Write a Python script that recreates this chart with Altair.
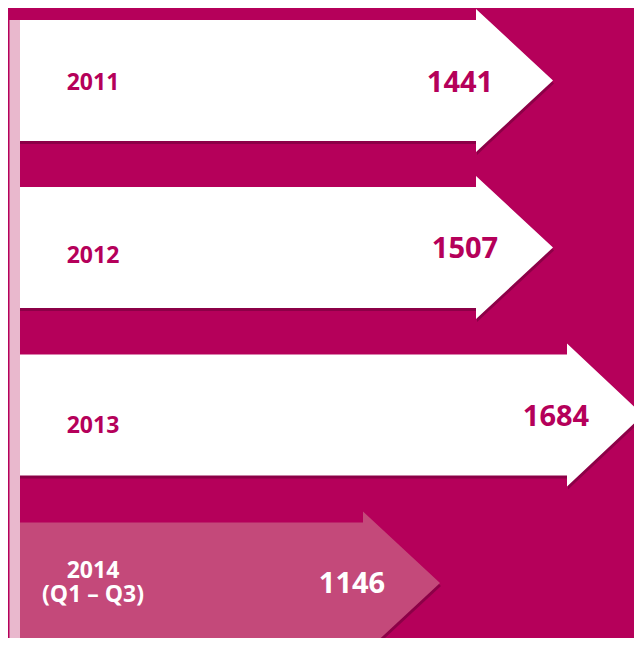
import altair as alt
import pandas as pd

# ---- chart values ----
years = ["2011", "2012", "2013", "2014\n(Q1 – Q3)"]
values = [1441, 1507, 1684, 1146]

# ---- layout (pixel positions in the reference picture) ----
row_center = [80.5, 247.5, 415.0, 583.0]
body_start = 18
body_end = [476, 476, 567, 363]
tip_x = [553, 553, 643, 440]
body_half = 60.5
head_half = 71.5
arrow_fill = ["#FFFFFF", "#FFFFFF", "#FFFFFF", "#C4497A"]
text_fill = ["#B5005A", "#B5005A", "#B5005A", "#FFFFFF"]
year_x = 93
year_y = [83, 256, 426, 571]
value_x = [460, 465, 556, 352]
value_y = [83, 249, 417, 584]
stripe = {"x": 9.5, "x2": 20, "y": 20, "y2": 646}

BG = "#B5005A"
STRIPE = "#E9B8CD"
SHADOW = "#5A0030"
W, H = 626, 630

ids = [str(i) for i in range(len(years))]

# polygon table for the arrows (body + head), built from the lists above
rows = []
for i, c in enumerate(row_center):
    pts = [
        (body_start, c - body_half, c + body_half),
        (body_end[i], c - body_half, c + body_half),
        (body_end[i] + 0.01, c - head_half, c + head_half),
        (tip_x[i], c, c),
    ]
    for k, (x, y, y2) in enumerate(pts):
        rows.append({"id": ids[i], "k": k, "x": x, "y": y, "y2": y2,
                     "sx": x + 1, "sy": y + 3, "sy2": y2 + 3})
arrows = pd.DataFrame(rows)

labels = pd.DataFrame({
    "id": ids, "year": years, "value": values,
    "yx": [year_x] * len(years), "yy": year_y,
    "vx": value_x, "vy": value_y,
})

xs = alt.Scale(domain=[8, 8 + W])
ys = alt.Scale(domain=[8, 8 + H], reverse=True)
fill_scale = alt.Scale(domain=ids, range=arrow_fill)
text_scale = alt.Scale(domain=ids, range=text_fill)

shadow = alt.Chart(arrows).mark_area(color=SHADOW, opacity=0.45).encode(
    x=alt.X("sx:Q", scale=xs, axis=None),
    y=alt.Y("sy:Q", scale=ys, axis=None, stack=None),
    y2="sy2:Q",
    detail="id:N",
)

body = alt.Chart(arrows).mark_area(opacity=1).encode(
    x=alt.X("x:Q", scale=xs, axis=None),
    y=alt.Y("y:Q", scale=ys, axis=None, stack=None),
    y2="y2:Q",
    fill=alt.Fill("id:N", scale=fill_scale, legend=None),
    detail="id:N",
)

bar = alt.Chart(pd.DataFrame([stripe])).mark_rect(color=STRIPE).encode(
    x=alt.X("x:Q", scale=xs, axis=None),
    x2="x2:Q",
    y=alt.Y("y:Q", scale=ys, axis=None),
    y2="y2:Q",
)

year_text = alt.Chart(labels).mark_text(
    font="Open Sans", fontWeight="bold", fontSize=23, lineBreak="\n",
    lineHeight=24, align="center", baseline="middle",
).encode(
    x=alt.X("yx:Q", scale=xs, axis=None),
    y=alt.Y("yy:Q", scale=ys, axis=None),
    text="year:N",
    color=alt.Color("id:N", scale=text_scale, legend=None),
)

value_text = alt.Chart(labels).mark_text(
    font="Open Sans", fontWeight="bold", fontSize=29,
    align="center", baseline="middle",
).encode(
    x=alt.X("vx:Q", scale=xs, axis=None),
    y=alt.Y("vy:Q", scale=ys, axis=None),
    text="value:Q",
    color=alt.Color("id:N", scale=text_scale, legend=None),
)

chart = alt.layer(shadow, body, bar, year_text, value_text).properties(
    width=W, height=H,
    background=BG,
    padding=0,
    autosize=alt.AutoSizeParams(type="none"),
).configure_view(stroke=None)

chart.save("out.html", embed_options={"renderer": "svg", "actions": False})
